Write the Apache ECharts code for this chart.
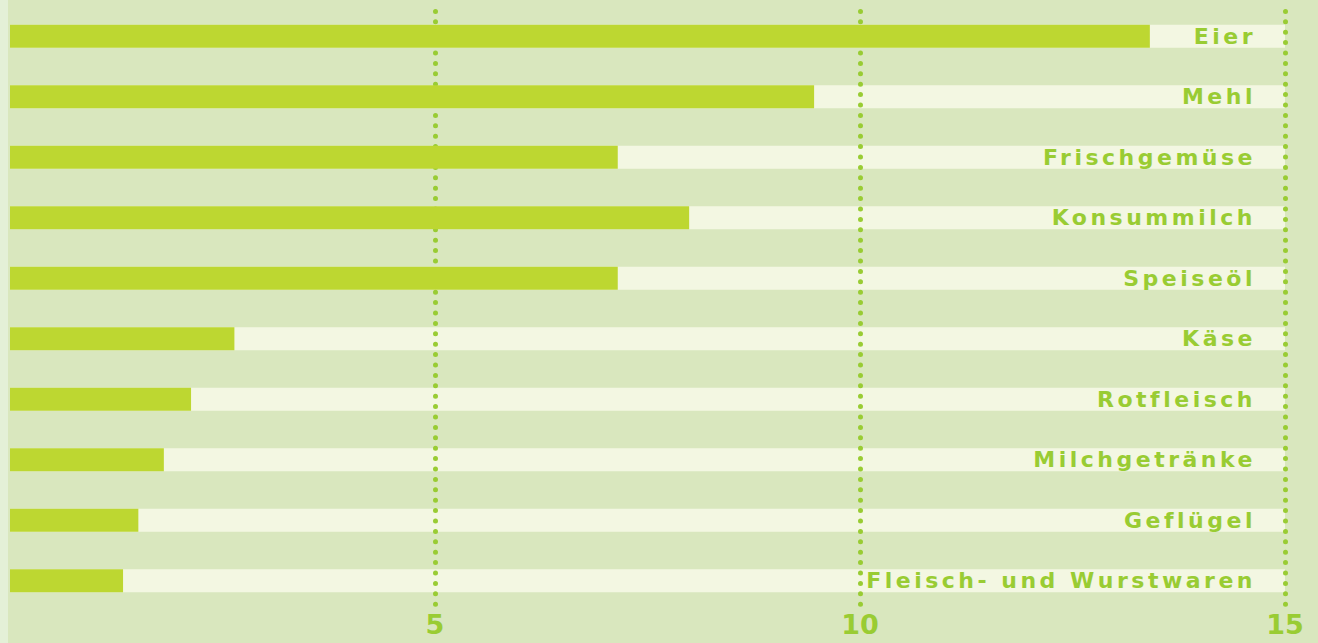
<!DOCTYPE html>
<html>
<head>
<meta charset="utf-8">
<script src="https://cdn.jsdelivr.net/npm/echarts@6/dist/echarts.min.js"></script>
<style>
  html, body { margin: 0; padding: 0; }
  #chart {
    width: 1318px;
    height: 643px;
    background: linear-gradient(to right, #e4f0d7 8px, #d9e7be 8px);
    letter-spacing: 3.5px;
  }
  /* Achsenbeschriftung ohne Sperrung */
  #chart text[text-anchor="middle"] { letter-spacing: 0; }
</style>
</head>
<body>
<div id="chart"></div>
<script>
// Anteil in %, von oben nach unten
const categories = ['Eier', 'Mehl', 'Frischgemüse', 'Konsummilch', 'Speiseöl', 'Käse', 'Rotfleisch', 'Milchgetränke', 'Geflügel', 'Fleisch- und Wurstwaren'];
const values = [13.41, 9.46, 7.15, 7.99, 7.15, 2.64, 2.13, 1.81, 1.51, 1.33];
const axisMax = 15;
const tickStep = 5;

const green = '#99cc33';
const font = '"DejaVu Sans", sans-serif';

let chart = echarts.init(document.getElementById('chart'), null, { renderer: 'svg' });
chart.setOption({
  backgroundColor: 'transparent',
  animation: false,
  grid: { left: 10, right: 33, top: 6, bottom: 32, containLabel: false },
  xAxis: {
    type: 'value',
    min: 0,
    max: axisMax,
    interval: tickStep,
    z: 3,
    axisLine: { show: false },
    axisTick: { show: false },
    axisLabel: {
      showMinLabel: false,
      color: green,
      fontFamily: font,
      fontWeight: 900,
      fontSize: 27,
      margin: 0
    },
    splitLine: {
      show: true,
      showMinLine: false,
      lineStyle: { color: green, width: 5, type: [0, 10.4], cap: 'round', dashOffset: 5 }
    }
  },
  yAxis: {
    type: 'category',
    inverse: true,
    data: categories,
    axisLine: { show: false },
    axisTick: { show: false },
    axisLabel: { show: false },
    splitLine: { show: false }
  },
  series: [
    // heller Hintergrundbalken mit Beschriftung
    {
      name: 'track',
      type: 'bar',
      z: 2,
      barWidth: 23,
      silent: true,
      itemStyle: { color: '#f3f7e2' },
      label: {
        show: true,
        position: 'insideRight',
        distance: 29,
        formatter: '{b}',
        color: green,
        fontFamily: font,
        fontWeight: 900,
        fontSize: 22
      },
      data: categories.map(() => axisMax)
    },
    {
      name: 'Anteil',
      type: 'bar',
      z: 4,
      barWidth: 23,
      barGap: '-100%',
      itemStyle: { color: '#bdd731' },
      data: values
    }
  ]
});
</script>
</body>
</html>
